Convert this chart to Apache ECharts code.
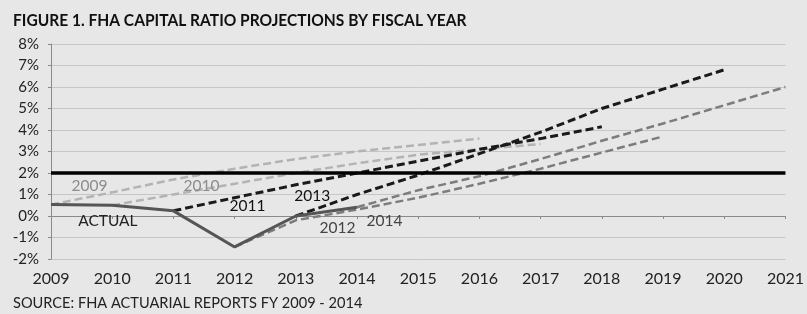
<!DOCTYPE html>
<html>
<head>
<meta charset="utf-8">
<script src="https://cdn.jsdelivr.net/npm/echarts@6/dist/echarts.min.js"></script>
<style>
  html, body { margin: 0; padding: 0; background: #e7e7e7; }
  #chart { width: 807px; height: 314px; }
</style>
</head>
<body>
<div id="chart"></div>
<script>
// fiscal years on the x axis
const years = [2009, 2010, 2011, 2012, 2013, 2014, 2015, 2016, 2017, 2018, 2019, 2020, 2021]
const yTicks = [-2, -1, 0, 1, 2, 3, 4, 5, 6, 7, 8]

// actual capital ratio (%), FY2009 - FY2014
const actual = [0.53, 0.50, 0.24, -1.44, 0.00, 0.41]

// seven-year projections of each actuarial report, starting in the report year
const proj2009 = [0.53, 1.10, 1.70, 2.20, 2.65, 3.00, 3.30, 3.60]
const proj2010 = [0.50, 1.00, 1.50, 2.00, 2.45, 2.85, 3.10, 3.35]
const proj2011 = [0.24, 0.85, 1.45, 2.00, 2.55, 3.10, 3.60, 4.15]
const proj2012 = [-1.44, -0.20, 0.30, 0.85, 1.50, 2.20, 2.95, 3.70]
const proj2013 = [0.00, 1.00, 1.90, 2.90, 3.90, 5.00, 5.90, 6.80]
const proj2014 = [0.41, 1.20, 1.85, 2.65, 3.50, 4.30, 5.15, 6.00]

const target = 2 // statutory 2% minimum

const FONT = 'Lato, "Open Sans", sans-serif'
const LIGHT = '#b3b3b3', DARK = '#1a1a1a', MID = '#7c7c7c'

const pairs = (start, vals) => vals.map((v, i) => [start + i, v])

function projSeries(name, start, vals, color, width) {
  return {
    name, type: 'line', data: pairs(start, vals),
    symbol: 'none', silent: true, z: 3,
    lineStyle: { color, width, type: [8, 4] }
  }
}

// in-chart labels: [text, year, value, colour]
const annotations = [
  ['2009', 2009.63, 1.38, '#8c8c8c'],
  ['2010', 2011.46, 1.40, '#8c8c8c'],
  ['2011', 2012.21, 0.47, '#111'],
  ['2013', 2013.27, 0.93, '#111'],
  ['2012', 2013.68, -0.56, '#444'],
  ['2014', 2014.45, -0.23, '#444'],
  ['ACTUAL', 2009.93, -0.23, '#222']
]

const chart = echarts.init(document.getElementById('chart'))

const option = {
  backgroundColor: '#e7e7e7',
  animation: false,
  grid: { left: 51, right: 15, top: 44, bottom: 55 },
  xAxis: [{
    type: 'value', min: years[0], max: years[years.length - 1], interval: 1,
    axisLine: { show: false, onZero: false },
    axisTick: { show: false },
    splitLine: { show: false },
    axisLabel: { fontFamily: FONT, fontSize: 16, color: '#222', margin: 12, formatter: v => String(v) }
  }, {
    type: 'value', min: years[0], max: years[years.length - 1], interval: 1,
    position: 'bottom',
    axisLine: { show: true, onZero: true, lineStyle: { color: '#8a8a8a', width: 1 } },
    axisTick: { show: true, length: 3, lineStyle: { color: '#8a8a8a' } },
    axisLabel: { show: false },
    splitLine: { show: false }
  }],
  yAxis: {
    type: 'value', min: yTicks[0], max: yTicks[yTicks.length - 1], interval: 1,
    axisLine: { show: true, lineStyle: { color: '#8a8a8a', width: 1 } },
    axisTick: { show: true, length: 3, lineStyle: { color: '#8a8a8a' } },
    axisLabel: { fontFamily: FONT, fontSize: 15, color: '#222', margin: 12, formatter: '{value}%' },
    splitLine: { show: true, lineStyle: { color: '#c6c6c6', width: 1 } }
  },
  series: [
    projSeries('2009', 2009, proj2009, LIGHT, 2.5),
    projSeries('2010', 2010, proj2010, LIGHT, 2.5),
    projSeries('2012', 2012, proj2012, MID, 2.5),
    projSeries('2014', 2014, proj2014, MID, 2.5),
    projSeries('2011', 2011, proj2011, DARK, 3),
    projSeries('2013', 2013, proj2013, DARK, 3),
    {
      name: 'Actual', type: 'line', data: pairs(years[0], actual),
      symbol: 'none', silent: true, z: 4,
      lineStyle: { color: '#555', width: 3 },
      markLine: {
        silent: true, symbol: 'none', label: { show: false },
        lineStyle: { color: '#000', width: 3.5, type: 'solid' },
        data: [{ yAxis: target }]
      }
    }
  ]
}

chart.setOption(option)

// place the text labels from data coordinates
const texts = annotations.map(([text, x, y, color]) => {
  const p = chart.convertToPixel({ gridIndex: 0 }, [x, y])
  return {
    type: 'text', x: p[0], y: p[1], z: 10,
    style: { text, fill: color, font: '15.5px ' + FONT, align: 'center', verticalAlign: 'middle' }
  }
})
// title is set narrower to match the condensed face of the original
texts.push({
  type: 'text', x: 13, y: 21, scaleX: 0.915, z: 10,
  style: {
    text: 'FIGURE 1. FHA CAPITAL RATIO PROJECTIONS BY FISCAL YEAR',
    fill: '#111', font: 'bold 17px ' + FONT, verticalAlign: 'middle'
  }
})
texts.push({
  type: 'text', x: 13, y: 303, z: 10,
  style: { text: 'SOURCE: FHA ACTUARIAL REPORTS FY 2009 - 2014', fill: '#222', font: '14.6px ' + FONT, verticalAlign: 'middle' }
})
chart.setOption({ graphic: texts })
</script>
</body>
</html>
